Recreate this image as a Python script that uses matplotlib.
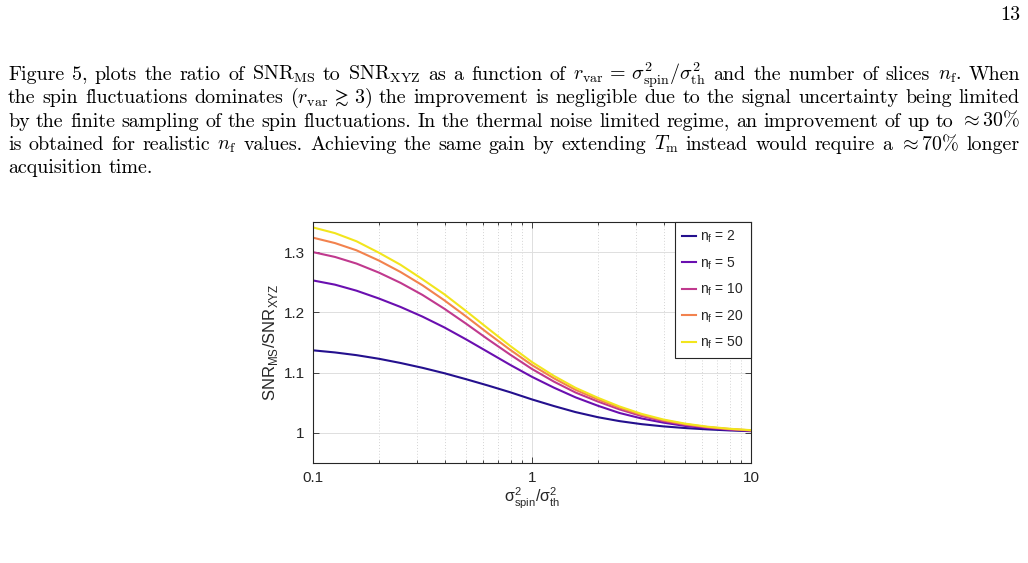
import matplotlib
matplotlib.use("Agg")
import matplotlib.pyplot as plt

# ---------------- data ----------------
r_var = [0.1, 0.126, 0.158, 0.2, 0.251, 0.316, 0.398, 0.501, 0.631, 0.794, 1.0,
         1.26, 1.58, 2.0, 2.51, 3.16, 3.98, 5.01, 6.31, 7.94, 10.0]
n_f = [2, 5, 10, 20, 50]
ratio_n2 = [1.137, 1.1335, 1.129, 1.123, 1.116, 1.108, 1.099, 1.089, 1.0785, 1.0675, 1.0555,
            1.0445, 1.0345, 1.026, 1.0195, 1.0145, 1.0108, 1.008, 1.0058, 1.0041, 1.0028]
ratio_n5 = [1.253, 1.246, 1.236, 1.223, 1.209, 1.193, 1.175, 1.155, 1.134, 1.113, 1.093,
            1.075, 1.059, 1.045, 1.033, 1.024, 1.017, 1.0115, 1.0078, 1.0052, 1.0034]
ratio_n10 = [1.300, 1.292, 1.281, 1.266, 1.249, 1.229, 1.206, 1.181, 1.155, 1.130, 1.106,
             1.085, 1.067, 1.052, 1.039, 1.028, 1.0195, 1.0133, 1.0089, 1.0059, 1.0038]
ratio_n20 = [1.324, 1.315, 1.303, 1.286, 1.267, 1.245, 1.220, 1.193, 1.165, 1.138, 1.1125,
             1.0905, 1.0715, 1.0555, 1.0418, 1.030, 1.021, 1.0144, 1.0097, 1.0065, 1.0042]
ratio_n50 = [1.341, 1.3315, 1.318, 1.299, 1.279, 1.255, 1.230, 1.202, 1.173, 1.1445, 1.1175,
             1.0945, 1.0748, 1.0582, 1.0438, 1.0316, 1.0222, 1.0153, 1.0103, 1.0069, 1.0045]
series = [ratio_n2, ratio_n5, ratio_n10, ratio_n20, ratio_n50]
colors = ['#24108e', '#6a0fb0', '#c0398e', '#f2824e', '#f2e51d']
x_ticks = [0.1, 1, 10]
x_tick_labels = ['0.1', '1', '10']
y_ticks = [1.0, 1.1, 1.2, 1.3]
y_tick_labels = ['1', '1.1', '1.2', '1.3']

page_number = '13'
para_lines = [
    ['Figure', '5,', 'plots', 'the', 'ratio', 'of', r'SNR$_{\rm MS}$', 'to', r'SNR$_{\rm XYZ}$', 'as', 'a',
     'function', 'of', r'$r_{\rm var} \,=\, \sigma^2_{\rm spin}/\sigma^2_{\rm th}$', 'and', 'the', 'number', 'of',
     'slices', r'$n_{\rm f}$.', 'When'],
    ['the', 'spin', 'fluctuations', 'dominates', r'($r_{\rm var} \,\gtrsim\, 3$)', 'the', 'improvement', 'is',
     'negligible', 'due', 'to', 'the', 'signal', 'uncertainty', 'being', 'limited'],
    ['by', 'the', 'finite', 'sampling', 'of', 'the', 'spin', 'fluctuations.', 'In', 'the', 'thermal', 'noise',
     'limited', 'regime,', 'an', 'improvement', 'of', 'up', 'to', r'$\approx 30\%$'],
    ['is', 'obtained', 'for', 'realistic', r'$n_{\rm f}$', 'values.', 'Achieving', 'the', 'same', 'gain', 'by',
     'extending', r'$T_{\rm m}$', 'instead', 'would', 'require', 'a', r'$\approx 70\%$', 'longer'],
    ['acquisition', 'time.'],
]

# ---------------- figure ----------------
W, H = 1028, 563
fig = plt.figure(figsize=(W / 100, H / 100), dpi=100)
fig.patch.set_facecolor('white')
renderer = fig.canvas.get_renderer()

TXT = dict(family='cmr10', math_fontfamily='cm', color='black')


def measure(s, fs):
    t = fig.text(0, 0, s, fontsize=fs, **TXT)
    w = t.get_window_extent(renderer).width
    t.remove()
    return w


left_px, right_px = 8.0, 1020.0
avail = right_px - left_px
base_fs = 10.0
nat = []
for words in para_lines[:-1]:
    ws = sum(measure(w, base_fs) for w in words)
    sp = 0.333 * base_fs * 100 / 72
    nat.append(ws + sp * (len(words) - 1))
fs = base_fs * avail / (sum(nat) / len(nat))

baselines = [80, 103.3, 126.6, 150, 173.3]
for i, words in enumerate(para_lines):
    widths = [measure(w, fs) for w in words]
    if i < len(para_lines) - 1:
        gap = (avail - sum(widths)) / (len(words) - 1)
    else:
        gap = 0.333 * fs * 100 / 72
    x = left_px
    for w, wd in zip(words, widths):
        fig.text(x / W, 1 - baselines[i] / H, w, fontsize=fs, ha='left', va='baseline', **TXT)
        x += wd + gap

fig.text(1020 / W, 1 - 20 / H, page_number, fontsize=fs, ha='right', va='baseline', **TXT)

# ---------------- chart ----------------
SANS = 'Liberation Sans'
dark = '#262626'
ax = fig.add_axes([313 / W, 1 - 463 / H, (751 - 313) / W, (463 - 222) / H])
for n, vals, c in zip(n_f, series, colors):
    ax.plot(r_var, vals, color=c, lw=1.5, label=r'n$_\mathregular{f}$ = ' + str(n))

ax.set_xscale('log')
ax.set_xlim(0.1, 10)
ax.set_ylim(0.95, 1.35)
ax.set_xticks(x_ticks)
ax.set_xticklabels(x_tick_labels)
ax.set_yticks(y_ticks)
ax.set_yticklabels(y_tick_labels)
for lab in ax.get_xticklabels() + ax.get_yticklabels():
    lab.set_family(SANS)
    lab.set_fontsize(11)
    lab.set_color(dark)

ax.tick_params(which='both', direction='in', top=True, right=True, color=dark, width=0.6)
ax.tick_params(which='major', length=4, pad=6)
ax.tick_params(which='minor', length=2.5)
ax.yaxis.set_minor_locator(matplotlib.ticker.NullLocator())
ax.grid(True, which='major', axis='both', color='#dedede', lw=0.7)
ax.grid(True, which='minor', axis='x', color='#d4d4d4', lw=0.7, ls=(0, (1, 2)))
ax.set_axisbelow(True)
for sp in ax.spines.values():
    sp.set_color(dark)
    sp.set_linewidth(0.8)

ax.set_ylabel(r'SNR$_\mathregular{MS}$/SNR$_\mathregular{XYZ}$', family=SANS, fontsize=12, color=dark)
ax.yaxis.set_label_coords((280 - 313) / 438, 0.5)
ax.set_xlabel(r'σ$^\mathregular{2}_\mathregular{spin}$/σ$^\mathregular{2}_\mathregular{th}$', family=SANS,
              fontsize=11.5, color=dark)
ax.xaxis.set_label_coords(0.5, (463 - 486) / 241)

leg = ax.legend(loc='upper right', borderaxespad=0, fancybox=False, framealpha=1, edgecolor=dark,
                prop={'family': SANS, 'size': 10}, handlelength=1.0, handletextpad=0.35,
                labelspacing=0.72, borderpad=0.5)
leg.get_frame().set_linewidth(0.8)
for t in leg.get_texts():
    t.set_color(dark)

fig.savefig('out.png', dpi=100, facecolor='white')
